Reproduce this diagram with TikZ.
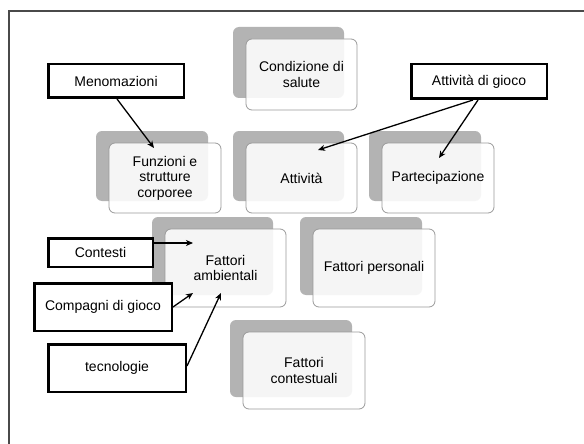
\documentclass[tikz,border=0pt]{standalone}
\usepackage{fontspec}
\setmainfont{Liberation Sans}
\usetikzlibrary{shadows,arrows.meta,calc}
\pgfdeclarelayer{bg}
\pgfsetlayers{bg,main}
\definecolor{shadowgray}{HTML}{B3B3B3}
\definecolor{boxline}{HTML}{9A9A9A}
\definecolor{treegray}{HTML}{C4C4C4}
\definecolor{framegray}{HTML}{4A4A4A}
\tikzset{
  smart/.style={draw=boxline, line width=0.8pt, rounded corners=6pt, fill=white, fill opacity=0.88, text opacity=1,
    align=center, inner sep=0pt, font=\fontsize{14}{15.5}\selectfont,
    general shadow={shadow xshift=-13pt, shadow yshift=12pt, fill=shadowgray, fill opacity=1, draw=none}},
  callout/.style={draw=black, line width=2.5pt, fill=white, align=center, inner sep=0pt,
    font=\fontsize{14}{15.5}\selectfont,
    general shadow={shadow xshift=1.5pt, shadow yshift=-1.5pt, fill=black!35, draw=none}},
  treeline/.style={draw=treegray, line width=0.9pt},
  pointer/.style={draw=black, line width=1.3pt, -{Stealth[length=7pt,width=6pt,inset=2pt]}},
}
\begin{document}
\begin{tikzpicture}[x=1pt,y=-1pt]
\useasboundingbox (0,0) rectangle (584,444);
\fill[white] (0,0) rectangle (584,444);
\draw[framegray, line width=1.5pt] (584,11) -- (9,11) -- (9,444);

% SmartArt boxes
\node[smart, minimum width=111pt, minimum height=71pt] (cs) at (301.5,74.5) {Condizione di\\salute};
\node[smart, minimum width=112pt, minimum height=70pt] (fs) at (165,178) {Funzioni e\\strutture\\corporee};
\node[smart, minimum width=111pt, minimum height=70pt] (at) at (301.5,178) {Attività};
\node[smart, minimum width=112pt, minimum height=70pt] (pa) at (438,178) {Partecipazione};
\node[smart, minimum width=121pt, minimum height=78pt] (fa) at (225.5,268) {Fattori\\ambientali};
\node[smart, minimum width=122pt, minimum height=78pt] (fp) at (374,268) {Fattori personali};
\node[smart, minimum width=122pt, minimum height=77pt] (fc) at (304,370.5) {Fattori\\contestuali};

% tree lines (behind)
\begin{pgfonlayer}{bg}
\draw[treeline] ([xshift=-13pt]cs.south) -- ([xshift=-13pt]at.north);
\draw[treeline] ([xshift=-13pt]fs.north) -- ++(0,-22) -| ([xshift=-13pt]pa.north);
\draw[treeline] ($(fa.center)+(10,29)$) -- ($(fc.center)+(-36,-28)$);
\draw[treeline] ($(fp.center)+(-41,29)$) -- ($(fc.center)+(15,-46)$);
\end{pgfonlayer}

% callouts
\node[callout, minimum width=135.5pt, minimum height=33.5pt] (me) at (116,81) {Menomazioni};
\node[callout, minimum width=135.5pt, minimum height=34.5pt] (ag) at (479,81.5) {Attività di gioco};
\node[callout, minimum width=104.5pt, minimum height=28.5pt] (co) at (100.5,252.5) {Contesti};
\node[callout, minimum width=137.5pt, minimum height=47.5pt] (cg) at (103,307) {Compagni di gioco};
\node[callout, minimum width=137.5pt, minimum height=47.5pt] (te) at (117,368) {tecnologie};

% arrows
\draw[pointer] ([xshift=1pt]me.south) -- ($(fs.center)+(-11,-30)$);
\draw[pointer] ([xshift=-6pt]ag.south) -- ($(at.center)+(16.5,-28)$);
\draw[pointer] ([xshift=-1pt]ag.south) -- ($(pa.center)+(1,-20)$);
\draw[pointer] ([yshift=9.5pt]co.east) -- ($(fa.center)+(-32.5,-25)$);
\draw[pointer] (cg.east) -- ($(fa.center)+(-32.5,25)$);
\draw[pointer] ([yshift=2pt]te.east) -- ($(fa.center)+(-4.5,25)$);
\end{tikzpicture}
\end{document}
